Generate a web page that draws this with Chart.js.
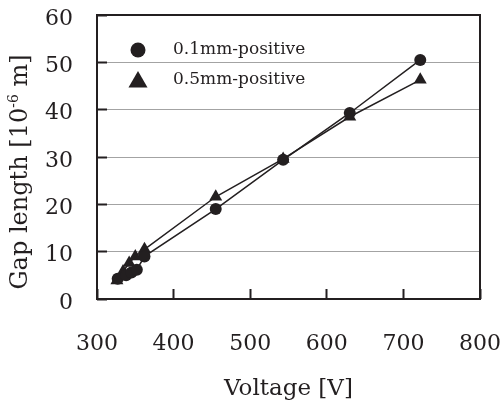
<!DOCTYPE html>
<html>
<head>
<meta charset="utf-8">
<script src="https://cdn.jsdelivr.net/npm/chart.js@4.4.1/dist/chart.umd.min.js"></script>
<style>
  body { margin: 0; background: #fff; }
  canvas { display: block; }
</style>
</head>
<body>
<canvas id="gapChart" width="501" height="405"></canvas>
<script>
// series
const seriesNames = ["0.1mm-positive", "0.5mm-positive"];
const voltage01 = [327, 338, 345, 352, 362, 455, 543, 630, 722];
const gap01 = [4.3, 5.0, 5.6, 6.2, 9.0, 19.0, 29.4, 39.3, 50.5];
const voltage05 = [326, 334, 342, 350, 362, 455, 543, 630, 722];
const gap05 = [3.9, 5.8, 7.6, 9.0, 10.5, 21.6, 29.6, 38.5, 46.3];
const xTicks = [300, 400, 500, 600, 700, 800];
const yTicks = [0, 10, 20, 30, 40, 50, 60];

const ink = "#231f20";
const serif = "'DejaVu Serif', serif";

Chart.defaults.color = ink;
Chart.defaults.font.family = serif;

const toPoints = (xs, ys) => xs.map((x, i) => ({ x: x, y: ys[i] }));

// no extra room for edge labels, layout padding decides the plot box
const noEdgePadding = (s) => {
    s.paddingTop = 0;
    s.paddingBottom = 0;
    s.paddingLeft = 0;
    s.paddingRight = 0;
};

// box around the plot
const framePlugin = {
    id: "frame",
    beforeDatasetsDraw(chart) {
        const { ctx, chartArea: a } = chart;
        ctx.save();
        ctx.strokeStyle = ink;
        ctx.lineWidth = 2;
        ctx.strokeRect(a.left, a.top, a.right - a.left, a.bottom - a.top);
        ctx.restore();
    }
};

// legend inside the plot + y title with superscript
const extrasPlugin = {
    id: "extras",
    afterDraw(chart) {
        const { ctx, chartArea: a } = chart;
        ctx.save();
        ctx.fillStyle = ink;

        const lx = a.left + 41;
        const ly = [a.top + 35, a.top + 65];
        // circle
        ctx.beginPath();
        ctx.arc(lx, ly[0], 7.5, 0, Math.PI * 2);
        ctx.fill();
        // triangle
        const r = 11;
        ctx.beginPath();
        for (let k = 0; k < 3; k++) {
            const ang = k * 2 * Math.PI / 3;
            const px = lx + Math.sin(ang) * r;
            const py = ly[1] + 2 - Math.cos(ang) * r;
            if (k === 0) ctx.moveTo(px, py); else ctx.lineTo(px, py);
        }
        ctx.closePath();
        ctx.fill();

        ctx.font = "17px " + serif;
        ctx.textAlign = "left";
        ctx.textBaseline = "middle";
        seriesNames.forEach((name, i) => ctx.fillText(name, a.left + 76, ly[i]));

        // y axis title
        ctx.translate(21, 172);
        ctx.rotate(-Math.PI / 2);
        const big = "24px " + serif;
        const small = "14px " + serif;
        const p1 = "Gap length [10", p2 = "-6", p3 = " m]";
        ctx.font = big;
        const w1 = ctx.measureText(p1).width, w3 = ctx.measureText(p3).width;
        ctx.font = small;
        const w2 = ctx.measureText(p2).width;
        let x = -(w1 + w2 + w3) / 2;
        ctx.font = big;
        ctx.fillText(p1, x, 0);
        x += w1;
        ctx.font = small;
        ctx.fillText(p2, x, -7);
        x += w2;
        ctx.font = big;
        ctx.fillText(p3, x, 0);
        ctx.restore();
    }
};

new Chart(document.getElementById("gapChart"), {
    type: "line",
    data: {
        datasets: [
            {
                label: seriesNames[0],
                data: toPoints(voltage01, gap01),
                borderColor: ink,
                backgroundColor: ink,
                borderWidth: 1.5,
                pointStyle: "circle",
                pointRadius: 6,
                pointBorderWidth: 0,
                tension: 0
            },
            {
                label: seriesNames[1],
                data: toPoints(voltage05, gap05),
                borderColor: ink,
                backgroundColor: ink,
                borderWidth: 1.5,
                pointStyle: "triangle",
                pointRadius: 7.5,
                pointBorderWidth: 0,
                tension: 0
            }
        ]
    },
    options: {
        responsive: false,
        animation: false,
        layout: { padding: { top: 15, right: 21, left: 0, bottom: 0 } },
        plugins: {
            legend: { display: false },
            tooltip: { enabled: false }
        },
        scales: {
            x: {
                type: "linear",
                min: xTicks[0],
                max: xTicks[xTicks.length - 1],
                afterBuildTicks: (s) => { s.ticks = xTicks.map(v => ({ value: v })); },
                afterFit: (s) => { s.height = 106; noEdgePadding(s); },
                border: { display: false },
                grid: {
                    drawOnChartArea: false,
                    drawTicks: true,
                    tickLength: -10,
                    tickColor: ink,
                    tickWidth: 2
                },
                ticks: { padding: 42, font: { size: 22 }, color: ink },
                title: {
                    display: true,
                    text: "Voltage [V]",
                    font: { size: 23 },
                    color: ink,
                    padding: { top: 0, bottom: 2 }
                }
            },
            y: {
                min: yTicks[0],
                max: yTicks[yTicks.length - 1],
                afterBuildTicks: (s) => { s.ticks = yTicks.map(v => ({ value: v })); },
                afterFit: (s) => { s.width = 97; noEdgePadding(s); },
                border: { display: false },
                grid: {
                    color: "#a3a3a3",
                    lineWidth: 1,
                    drawTicks: true,
                    tickLength: -10,
                    tickColor: ink,
                    tickWidth: 2
                },
                ticks: { padding: 34, labelOffset: 4, font: { size: 22 }, color: ink }
            }
        }
    },
    plugins: [framePlugin, extrasPlugin]
});
</script>
</body>
</html>
